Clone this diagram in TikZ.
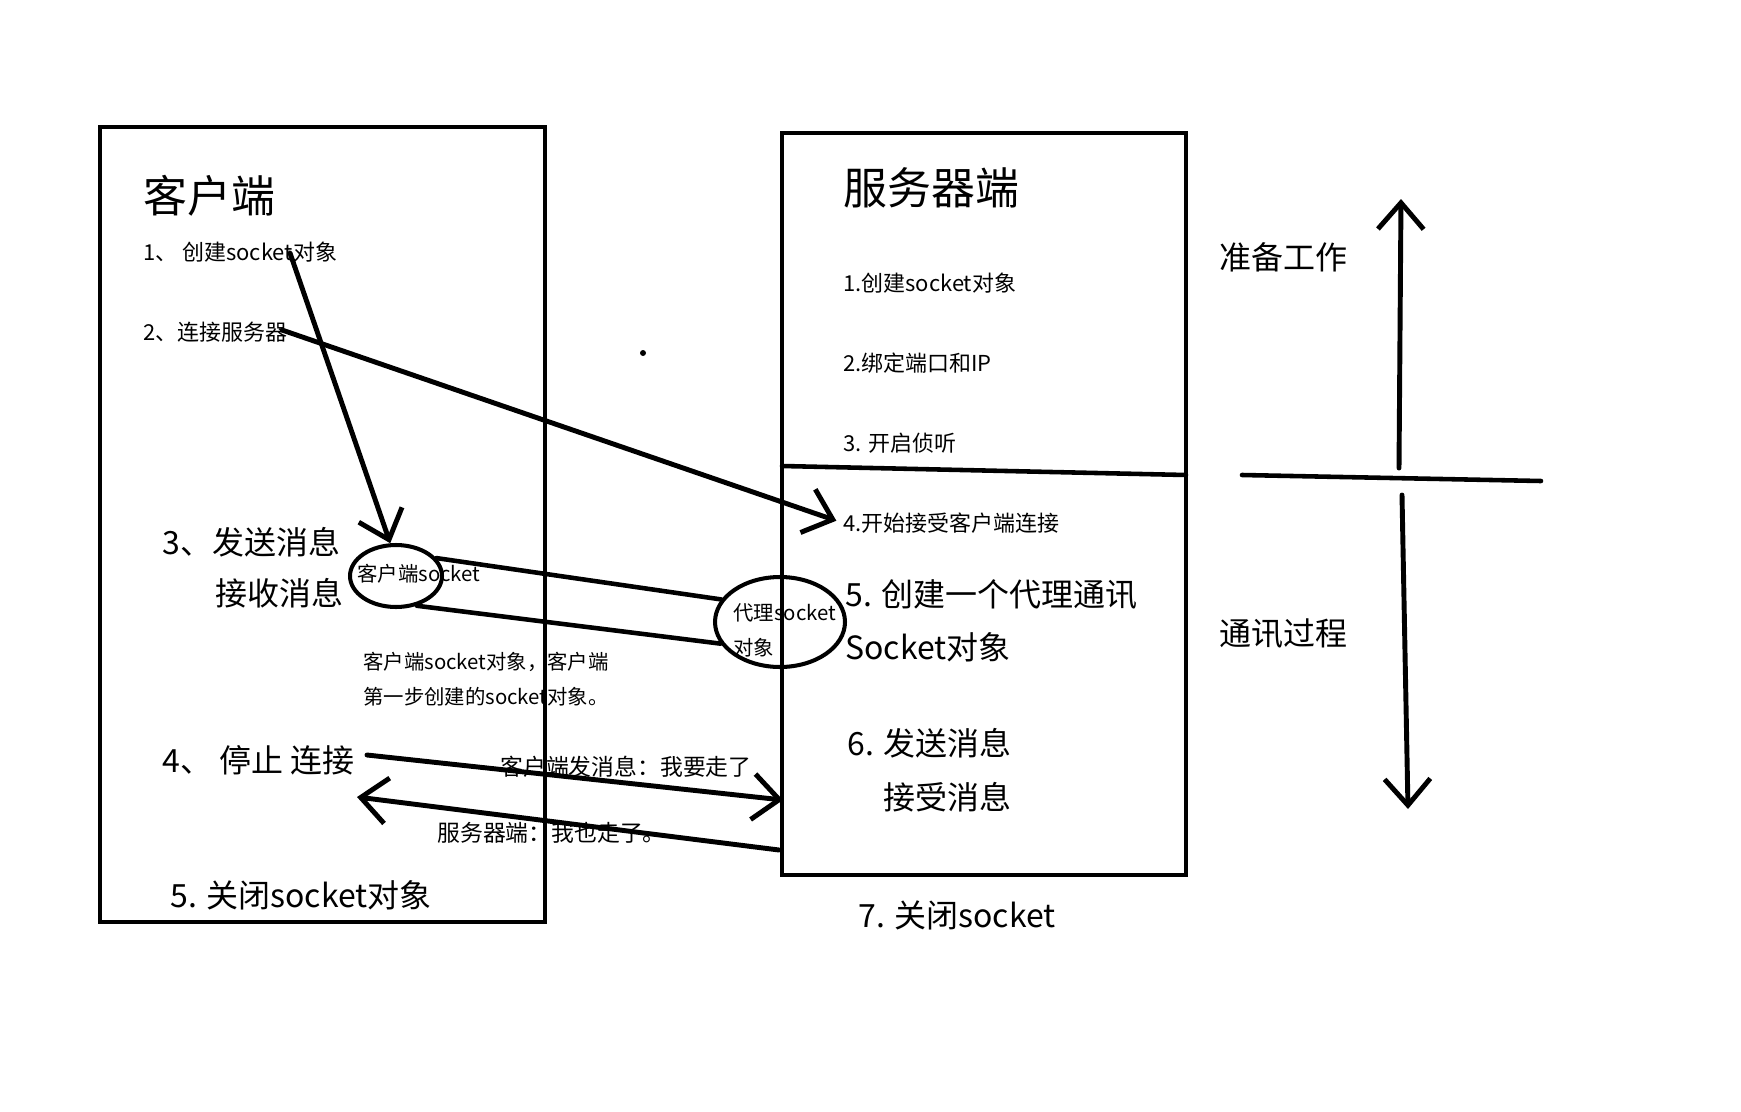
\documentclass[tikz,border=0pt]{standalone}
\usepackage{fontspec}
\setmainfont{Noto Sans CJK SC}
\usetikzlibrary{arrows.meta,positioning,fit,shapes.geometric}
\tikzset{
  side/.style={draw,line width=2.8pt,inner sep=0pt},
  txt/.style={anchor=west,inner sep=0pt},
  big/.style={txt,font=\fontsize{25}{30}\selectfont},
  mid/.style={txt,font=\fontsize{18.2}{22}\selectfont},
  small/.style={txt,font=\fontsize{12.5}{15}\selectfont},
  note/.style={txt,font=\fontsize{11.6}{14}\selectfont},
  lab/.style={txt,font=\fontsize{13}{16}\selectfont},
  sock/.style={ellipse,draw,line width=2.3pt,inner sep=0pt},
  link/.style={line width=2.6pt,line cap=round},
  arrow/.style={-{Straight Barb[length=15pt,width=26pt]},line width=2.8pt,line cap=round}
}

\begin{document}
\begin{tikzpicture}[x=0.02cm,y=-0.02cm]
  \useasboundingbox (0,0) rectangle (1741,1112);

  % the two sides
  \node[side,fit={(100,127) (545,922)}] (client) {};
  \node[side,fit={(782,133) (1186,875)}] (server) {};

  % client
  \node[big]   (ctitle) at (143,196) {客户端};
  \node[small] (cnew)   at (143,252) {1、 创建socket对象};
  \node[small] (cconn)  at (143,332) {2、连接服务器};
  \node[mid]   (csend)  at (162,542) {3、发送消息};
  \node[mid]   (crecv)  at (215,593) {接收消息};
  \node[mid]   (cstop)  at (162,760) {4、 停止 连接};
  \node[mid]   (cclose) at (170,895) {5. 关闭socket对象};

  \node[sock,minimum width=1.84cm,minimum height=1.24cm] (csock) at (396,576) {};
  \node[note] (csockt) at (357,574) {客户端socket};
  \node[note] (cnote1) at (363,662) {客户端socket对象，客户端};
  \node[note] (cnote2) at (363,697) {第一步创建的socket对象。};

  % server
  \node[big]   (stitle)  at (843,188) {服务器端};
  \node[small] (snew)    at (843,283) {1.创建socket对象};
  \node[small] (sbind)   at (843,363) {2.绑定端口和IP};
  \node[small] (slisten) at (843,443) {3. 开启侦听};
  \node[small] (saccept) at (843,523) {4.开始接受客户端连接};
  \node[mid]   (sproxy)  at (845,595) {5. 创建一个代理通讯};
  \node[mid]   (sobj)    at (845,647) {Socket对象};
  \node[mid]   (ssend)   at (847,743) {6. 发送消息};
  \node[mid]   (srecv)   at (883,797) {接受消息};
  \node[mid]   (sclose)  at (858,915) {7. 关闭socket};

  \node[sock,minimum width=2.6cm,minimum height=1.8cm] (psock) at (780,622) {};
  \node[note] (psockt) at (733,613) {代理socket};
  \node[note] (pobjt)  at (733,648) {对象};

  % stages
  \node[mid] (prep) at (1219,257) {准备工作};
  \node[mid] (comm) at (1219,634) {通讯过程};

  \coordinate (newout)  at (290,253);
  \coordinate (connout) at (282,330);
  \coordinate (stopout) at (367,755);
  \coordinate (stopin)  at (783,800);
  \coordinate (byeout)  at (779,850);
  \coordinate (byein)   at (357,797);
  \coordinate (upfrom)  at (1399,468);
  \coordinate (upto)    at (1401,199);
  \coordinate (dnfrom)  at (1402,495);
  \coordinate (dnto)    at (1408,809);

  \draw[arrow] (newout) -- (csock.100);
  \draw[arrow,shorten >=4pt] (connout) -- (saccept.west);
  \draw[link] (csock.24) -- (psock.159);
  \draw[link] (csock.-55) -- (psock.200);
  \draw[arrow] (stopout) -- (stopin);
  \draw[arrow] (byeout) -- (byein);
  \node[lab] (saybye) at (500,767) {客户端发消息：我要走了};
  \node[lab] (sayok)  at (437,833) {服务器端：我也走了。};

  \draw[link] (782,466) -- (1186,475);
  \draw[link] (1242,475) -- (1541,481);
  \draw[arrow] (upfrom) -- (upto);
  \draw[arrow] (dnfrom) -- (dnto);

  \fill (643,353) circle (0.06cm);

\end{tikzpicture}
\end{document}
